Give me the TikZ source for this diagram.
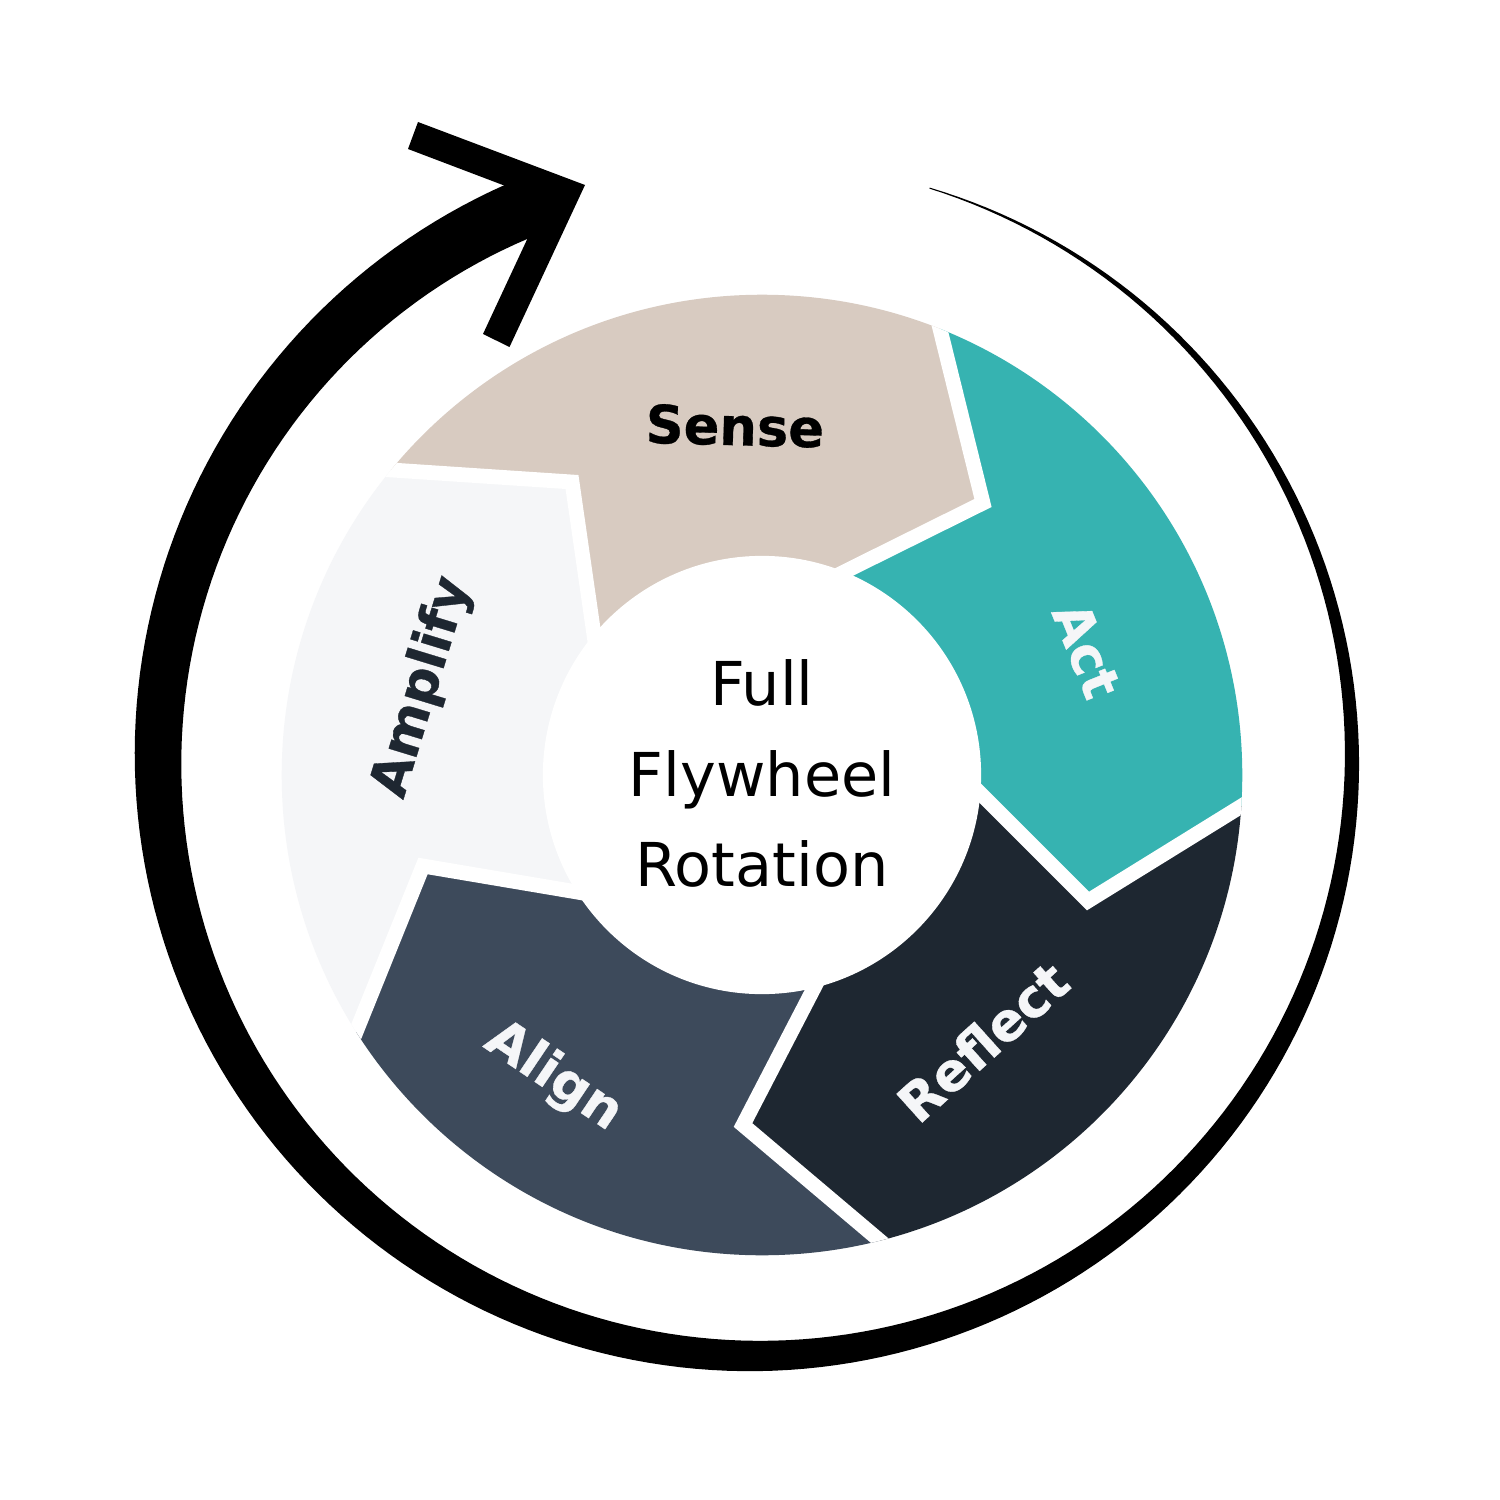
\documentclass[tikz,border=0pt]{standalone}
\usepackage{fontspec}
\setmainfont{DejaVu Sans}
\newfontfamily\labelfont{DejaVu Sans}[BoldFeatures={FakeBold=0.6}]
\definecolor{sensecol}{HTML}{D8CBC1}
\definecolor{actcol}{HTML}{36B3B1}
\definecolor{reflectcol}{HTML}{1E2731}
\definecolor{aligncol}{HTML}{3D4A5B}
\definecolor{amplifycol}{HTML}{F5F6F8}
\definecolor{lighttext}{HTML}{F5F6F8}
\begin{document}
\begin{tikzpicture}[x=0.01cm,y=-0.01cm,
  gapline/.style={draw=white,line width=4.2pt,line join=miter},
  seglabel/.style={font=\labelfont\bfseries\fontsize{15pt}{18pt}\selectfont,inner sep=0pt,text height=10.9pt,text depth=0pt},
  centertext/.style={font=\fontsize{17.2pt}{25.75pt}\selectfont,align=center,inner sep=0pt}]
\useasboundingbox (0,0) rectangle (1500,1500);
\fill[white] (0,0) rectangle (1500,1500);
% tapered outer stroke
\fill[black] plot[domain=0:321,samples=220] ({755+(597+(1+0.18*\x)/2)*cos(73-\x)},{759-(597+(1+0.18*\x)/2)*sin(73-\x)})
  -- (552,200)
  -- plot[domain=0:321,samples=220] ({755+(597-(1+0.18*(321-\x))/2)*cos(\x-248)},{759-(597-(1+0.18*(321-\x))/2)*sin(\x-248)})
  -- cycle;
% arrow head
\fill[black] (418,122) -- (585,185) -- (509.5,347) -- (483,334) -- (545,201) -- (408,149) -- cycle;
% segments
\coordinate (c) at (762,775);
\begin{scope}
\clip (c) circle[radius=4.8cm];
\fill[sensecol] (c) -- (600.6,681) -- (594,635) -- (572,482) -- (392,470) -- (302,464) -- (575.5,48.6) -- (918.5,242) -- (940,329) -- (983,503) -- (844,572) -- (802,593) -- cycle;
\fill[actcol] (c) -- (802,593) -- (844,572) -- (983,503) -- (940,329) -- (918.5,242) -- (1396.5,375) -- (1316,760) -- (1240,807) -- (1088,901) -- (979,792) -- (946,759) -- cycle;
\fill[reflectcol] (c) -- (946,759) -- (979,792) -- (1088,901) -- (1240,807) -- (1316,760) -- (1337,1256) -- (947,1297.5) -- (879,1240) -- (743,1125) -- (814,988) -- (835,947) -- cycle;
\fill[aligncol] (c) -- (835,947) -- (814,988) -- (743,1125) -- (879,1240) -- (947,1297.5) -- (483.5,1471) -- (322.5,1115) -- (356,1032) -- (423,866) -- (577,892) -- (623,900) -- cycle;
\fill[amplifycol] (c) -- (623,900) -- (577,892) -- (423,866) -- (356,1032) -- (322.5,1115) -- (13.5,728) -- (302,464) -- (392,470) -- (572,482) -- (594,635) -- (600.6,681) -- cycle;
\draw[gapline] (302,464) -- (392,470) -- (572,482) -- (594,635) -- (600.6,681);
\draw[gapline] (918.5,242) -- (940,329) -- (983,503) -- (844,572) -- (802,593);
\draw[gapline] (1316,760) -- (1240,807) -- (1088,901) -- (979,792) -- (946,759);
\draw[gapline] (947,1297.5) -- (879,1240) -- (743,1125) -- (814,988) -- (835,947);
\draw[gapline] (322.5,1115) -- (356,1032) -- (423,866) -- (577,892) -- (623,900);
\end{scope}
\fill[white] (c) circle[radius=2.19cm];
% labels
\node[centertext] (center) at (762,773.5) {Full\\Flywheel\\Rotation};
\node[seglabel,text=black,rotate=-1.5] (sense) at (735,426) {Sense};
\node[seglabel,text=lighttext,rotate=-68] (act) at (1087,650) {Act};
\node[seglabel,text=lighttext,rotate=42] (reflect) at (983,1042) {Reflect};
\node[seglabel,text=lighttext,rotate=-34] (align) at (556,1073) {Align};
\node[seglabel,text=reflectcol,rotate=73] (amplify) at (418,686) {Amplify};
\end{tikzpicture}
\end{document}
